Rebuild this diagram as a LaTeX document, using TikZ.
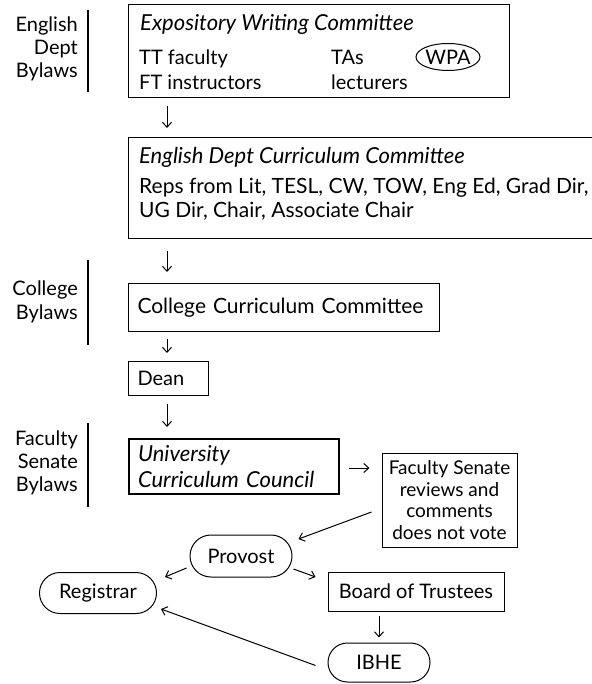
\documentclass[tikz,border=0pt]{standalone}
\usepackage{fontspec}
\setmainfont{Lato}
\setsansfont{Lato}
\usetikzlibrary{shapes.geometric,shapes.misc,arrows.meta}
\begin{document}
\begin{tikzpicture}[x=1pt,y=-1pt,
  font=\sffamily\fontsize{20}{24}\selectfont,
  box/.style={draw, line width=1pt, anchor=north west, inner sep=0pt},
  tbox/.style={draw, line width=1pt, anchor=north west, inner xsep=9pt, inner ysep=0pt, align=left},
  lbl/.style={inner sep=0pt, anchor=west, align=left},
  side/.style={inner sep=0pt, anchor=east, align=right},
  rnd/.style={draw, line width=1pt, rounded rectangle, inner sep=0pt},
  bar/.style={line width=1.2pt},
  ital/.style={font=\sffamily\itshape\fontsize{22}{26}\selectfont},
  arr/.style={draw, line width=1pt, -{Straight Barb[length=5pt,width=9pt]}}]
\useasboundingbox (0,0) rectangle (591,684);

% side labels
\node[side, font=\sffamily\fontsize{20}{23}\selectfont] (l1) at (78,49) {English\\Dept\\Bylaws};
\coordinate (b1t) at (88,10); \coordinate (b1b) at (88,92);
\draw[bar] (b1t) -- (b1b);
\node[side, font=\sffamily\fontsize{20}{24}\selectfont] (l2) at (78,302) {College\\Bylaws};
\coordinate (b2t) at (88,260); \coordinate (b2b) at (88,345);
\draw[bar] (b2t) -- (b2b);
\node[side, font=\sffamily\fontsize{20}{23}\selectfont] (l3) at (78,463) {Faculty\\Senate\\Bylaws};
\coordinate (b3t) at (88,423); \coordinate (b3b) at (88,507);
\draw[bar] (b3t) -- (b3b);

% Expository Writing Committee
\node[box, minimum width=381pt, minimum height=93pt] (ewc) at (128,4) {};
\node[lbl, ital] (ewct) at (140,24) {Expository Writing Committee};
\node[lbl, font=\sffamily\fontsize{20}{25}\selectfont] (ewcl) at (139,70) {TT faculty\\FT instructors};
\node[lbl, font=\sffamily\fontsize{20}{25}\selectfont] (ewcr) at (331,70) {TAs\\lecturers};
\node[draw, line width=1pt, ellipse, minimum width=60pt, minimum height=27pt, inner sep=0pt] (wpa) at (448,57) {WPA};

% English Dept Curriculum Committee
\node[box, minimum width=480pt, minimum height=101pt] (edcc) at (128,137) {};
\node[lbl, ital] (edcct) at (139,157) {English Dept Curriculum Committee};
\node[lbl, font=\sffamily\fontsize{21}{24}\selectfont] (edccm) at (139,199) {Reps from Lit, TESL, CW, TOW, Eng Ed, Grad Dir,\\UG Dir, Chair, Associate Chair};

% College Curriculum Committee
\node[tbox, minimum height=48pt, text width=293pt, font=\sffamily\fontsize{21}{24}\selectfont] (ccc) at (128,283) {College Curriculum Committee};
% Dean
\node[tbox, minimum height=34pt, text width=62pt] (dean) at (128,361) {Dean};
% UCC
\node[tbox, line width=2pt, minimum height=55pt, text width=192pt, ital] (ucc) at (128,438) {University\\Curriculum Council};
% Faculty Senate
\node[draw, line width=1pt, align=center, minimum width=135pt, minimum height=94pt, inner sep=0pt,
  font=\sffamily\fontsize{19}{21.5}\selectfont] (fs) at (449.5,500) {Faculty Senate\\reviews and\\comments\\does not vote};

% bottom
\node[rnd, minimum width=102pt, minimum height=42pt] (prov) at (241,556) {Provost};
\node[rnd, minimum width=117pt, minimum height=41pt] (reg) at (98,593) {Registrar};
\node[draw, line width=1pt, minimum width=176pt, minimum height=39pt, inner sep=0pt] (bot) at (416,591.5) {Board of Trustees};
\node[rnd, minimum width=102pt, minimum height=39pt] (ibhe) at (379,662.5) {IBHE};

% arrows
\draw[arr, shorten <=8pt, shorten >=9pt] (ewc.south west -| 167,0) -- (edcc.north west -| 167,0);
\draw[arr, shorten <=12pt, shorten >=11pt] (edcc.south west -| 167,0) -- (ccc.north west -| 167,0);
\draw[arr, shorten <=7pt, shorten >=8pt] (ccc.south west -| 167,0) -- (dean.north west -| 167,0);
\draw[arr, shorten <=8pt, shorten >=11pt] (dean.south west -| 167,0) -- (ucc.north west -| 167,0);
\draw[arr, shorten <=9pt, shorten >=12pt] ([yshift=32pt]ucc.east |- fs.west) -- ([yshift=32pt]fs.west);
\draw[arr] ([xshift=-10pt,yshift=-12pt]fs.west) -- ([xshift=6pt,yshift=17pt]prov.east);
\draw[arr] ([xshift=-3pt,yshift=-12pt]prov.west) -- ([xshift=8pt,yshift=16pt]reg.east);
\draw[arr] ([xshift=1pt,yshift=-13pt]prov.east) -- ([xshift=-12pt,yshift=14.5pt]bot.west);
\draw[arr, shorten <=4pt, shorten >=5pt] (ibhe.north |- bot.south) -- (ibhe.north);
\draw[arr] ([xshift=-12pt,yshift=-3pt]ibhe.west) -- ([xshift=4pt,yshift=-16pt]reg.east);
\end{tikzpicture}
\end{document}
